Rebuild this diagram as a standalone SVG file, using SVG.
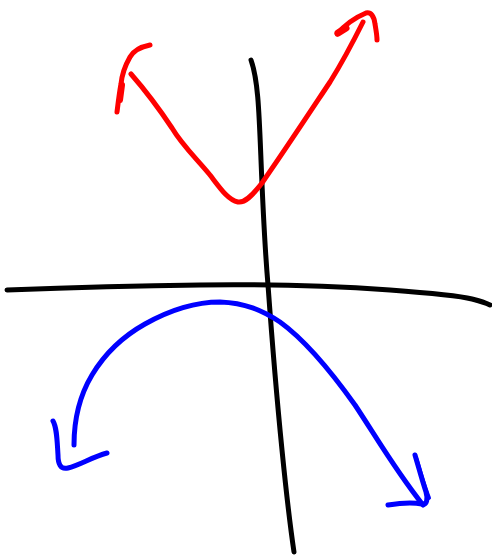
<svg xmlns="http://www.w3.org/2000/svg" width="492" height="556" viewBox="0 0 492 556">
<style>
.s{fill:none;stroke-width:5;stroke-linecap:round;stroke-linejoin:round}
.k{stroke:#000}
.r{stroke:#ff0000}
.b{stroke:#0000ff}
</style>
<rect width="492" height="556" fill="#fff"/>
<g id="axes">
<path class="s k" d="M251,60 C258,80 259,110 261,160 C263,210 265,250 268,285 C272,340 276,390 282,450 C286,490 290,525 294,552"/>
<path class="s k" d="M7,290 C60,288 120,286 200,285 C270,284 330,286 390,290 C430,293 460,296 472,299 C480,301 486,303 490,305"/>
</g>
<g id="red">
<path class="s r" d="M131,74 C145,90 160,110 172,128 C182,145 196,158 210,175 C220,188 228,200 238,202 C245,203 252,196 262,183 C285,150 310,112 330,82 C345,58 355,38 363,22"/>
<path class="s r" d="M150,45 C140,47 134,50 130,57 C126,64 122,74 121,84 C119,95 118,104 117,112"/>
<path class="s r" d="M122,85 L120,100" style="stroke-width:6"/>
<path class="s r" d="M337,34 C344,26 354,18 366,13 C371,12 374,16 375,24 C376,30 377,35 377,40"/>
<path class="s r" d="M338,33 L346,28" style="stroke-width:7"/>
</g>
<g id="blue">
<path class="s b" d="M74,445 C74,420 80,395 92,375 C104,355 120,338 145,324 C170,310 195,302 220,302 C245,303 262,310 280,322 C305,340 330,370 355,405 C375,435 395,470 423,505"/>
<path class="s b" d="M53,421 C57,428 57,440 58,455 C58,463 60,470 68,468 C80,465 92,457 107,453"/>
<path class="s b" d="M415,455 C418,465 422,480 426,492 C428,499 427,505 422,504 C412,502 400,503 388,505"/>
<path class="s b" d="M416,458 C420,470 424,485 429,498" style="stroke-width:4"/>
</g>
</svg>
